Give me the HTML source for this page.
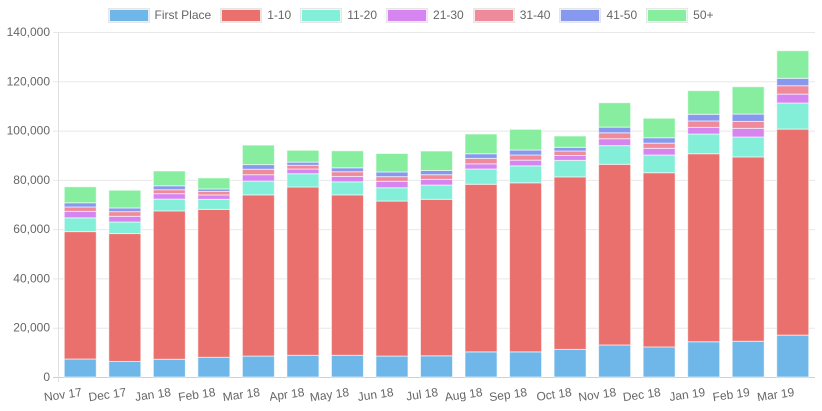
<!DOCTYPE html>
<html><head><meta charset="utf-8"><style>
body{margin:0;background:#fff;font-family:"Liberation Sans",Arial,sans-serif;}
#c{position:relative;width:822px;height:411px;overflow:hidden}
.legend{position:absolute;top:8px;left:0;width:822px;display:flex;justify-content:center;gap:10px;font-size:12px;color:#666;padding-left:0}
.li{display:flex;align-items:center;gap:6px;height:14px}
.box{width:38px;height:11px;border:1px solid rgba(255,255,255,.8);outline:1px solid #e6e6e6}
</style></head><body>
<div id="c">
<div class="legend" id="legend"></div>
<svg id="svg" width="822" height="411" style="position:absolute;left:0;top:0"></svg>
</div>
<script>
const categories=["Nov 17","Dec 17","Jan 18","Feb 18","Mar 18","Apr 18","May 18","Jun 18","Jul 18","Aug 18","Sep 18","Oct 18","Nov 18","Dec 18","Jan 19","Feb 19","Mar 19"];
const seriesNames=["First Place","1-10","11-20","21-30","31-40","41-50","50+"];
const firstPlace=[7300,6300,7200,8000,8500,8800,8800,8500,8600,10200,10200,11200,13000,12200,14300,14500,17000];
const top10=[51700,51900,60200,60000,65400,68300,65100,62900,63500,68000,68600,70000,73300,70700,76300,74800,83600];
const r11_20=[5600,4700,4800,4100,5600,5400,5300,5400,5800,6200,6900,6700,7600,7200,8000,8100,10600];
const r21_30=[2600,2300,2200,1800,2600,1900,2200,2600,2300,2100,2300,2000,2800,2700,2700,3500,3600];
const r31_40=[1800,1900,1600,1400,2200,1500,1900,1900,1900,2200,2100,1800,2400,2100,2600,2800,3400];
const r41_50=[1700,1500,1600,1000,1900,1300,1600,1900,1700,1900,2000,1500,2300,2200,2700,3000,3000];
const r50plus=[6500,7200,6000,4500,7900,4800,6900,7500,7900,8000,8400,4600,9900,7900,9600,11100,11200];
const yTicks=[0,20000,40000,60000,80000,100000,120000,140000];
const colors=["rgba(110,183,232,1)","rgba(233,112,108,1)","rgba(132,239,217,1)","rgba(214,132,240,1)","rgba(238,138,154,1)","rgba(135,153,238,1)","rgba(134,238,158,1)"];
const series=[firstPlace,top10,r11_20,r21_30,r31_40,r41_50,r50plus];
const L=58,R=815,T=32,B=377,yMax=140000;
const y=v=>B-(v/yMax)*(B-T);
const band=(R-L)/categories.length;
const x=i=>L+band*(i+0.5);
const NS="http://www.w3.org/2000/svg";
const svg=document.getElementById('svg');
function mk(t,a){const e=document.createElementNS(NS,t);for(const k in a)e.setAttribute(k,a[k]);svg.appendChild(e);return e;}
yTicks.forEach(v=>{
  const g=mk('line',{x1:L-5,x2:R,y1:y(v)+0.5,y2:y(v)+0.5,stroke:v===0?'#cfcfcf':'#e8e8e8'});
  
  
  const t=mk('text',{x:L-8,y:y(v)+4,'text-anchor':'end','font-size':12,fill:'#666','font-family':'Liberation Sans, sans-serif'});
  t.textContent=v.toLocaleString('en-US');
  
  
});
const ax=mk('line',{x1:L+0.5,x2:L+0.5,y1:T,y2:B+5,stroke:'#e0e0e0'});


const bw=32;
categories.forEach((c,i)=>{
  let acc=0;
  series.forEach((s,k)=>{
    const v=s[i];
    const r=mk('rect',{x:x(i)-bw/2,y:y(acc+v),width:bw,height:y(acc)-y(acc+v),fill:colors[k],stroke:'rgba(255,255,255,0.6)','stroke-width':1});
    
    
    acc+=v;
  });
  const t=mk('text',{x:x(i)+2,y:B+19,'text-anchor':'end','font-size':12,fill:'#666','font-family':'Liberation Sans, sans-serif',transform:`rotate(-8 ${x(i)+2} ${B+19})`});
  t.textContent=c;
  
  
});
const lg=document.getElementById('legend');
seriesNames.forEach((n,k)=>{
  const d=document.createElement('div');d.className='li';
  
  
  d.innerHTML=`<span class="box" style="background:${colors[k]}"></span><span>${n}</span>`;
  lg.appendChild(d);
});
</script>
</body></html>
